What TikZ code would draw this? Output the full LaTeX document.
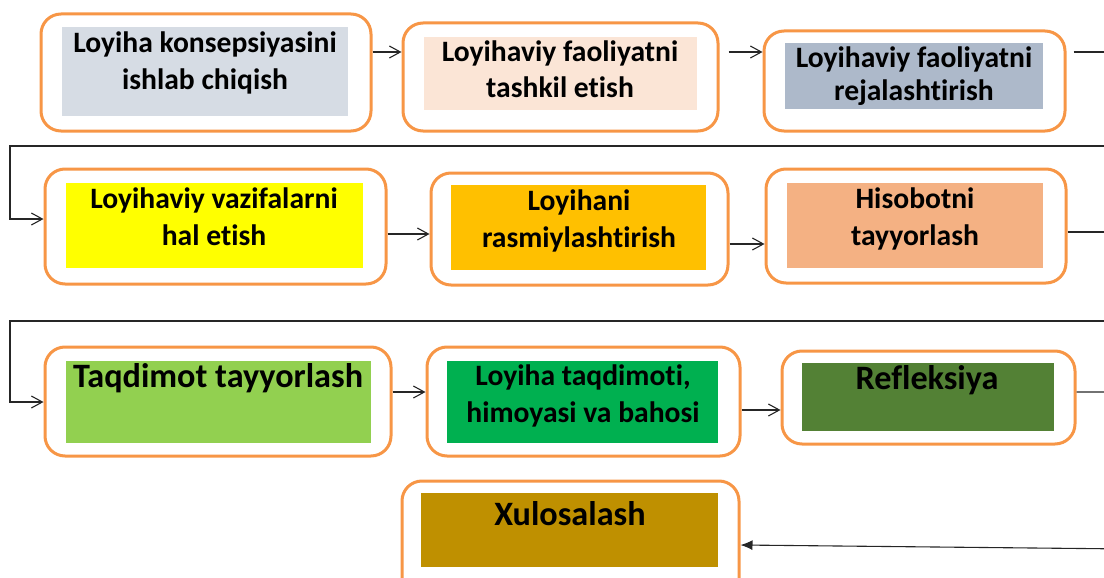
\documentclass[tikz,border=0pt]{standalone}
\usepackage{fontspec}
\setmainfont[Ligatures={NoCommon,NoRequired,NoContextual}]{Carlito}
\usetikzlibrary{arrows.meta,fit}
\definecolor{borange}{HTML}{F79646}
\definecolor{cA}{HTML}{D6DCE4}
\definecolor{cB}{HTML}{FBE5D6}
\definecolor{cC}{HTML}{ADB9CA}
\definecolor{cD}{HTML}{FFFF00}
\definecolor{cE}{HTML}{FFC000}
\definecolor{cF}{HTML}{F4B183}
\definecolor{cG}{HTML}{92D050}
\definecolor{cH}{HTML}{00B050}
\definecolor{cI}{HTML}{538135}
\definecolor{cJ}{HTML}{BF9000}
\begin{document}
\begin{tikzpicture}[x=1pt,y=-1pt,
  obox/.style={draw=borange, line width=3pt, rounded corners=20pt, fill=white, inner sep=0pt},
  ibox/.style={fill=#1, draw=none, inner sep=0pt},
  lbl/.style={anchor=base, inner sep=0pt, text=black, font=\fontsize{29.6}{35}\selectfont\bfseries},
  big/.style={anchor=base, inner sep=0pt, text=black, font=\fontsize{34.2}{41}\selectfont\bfseries},
  arr/.style={draw=black!85, line width=1.1pt, -{Straight Barb[length=11pt,width=12pt]}},
  farr/.style={draw=black!85, line width=1.1pt, -{Latex[length=12pt,width=10pt]}}]
\useasboundingbox (0,0) rectangle (1104,578);
\clip (0,0) rectangle (1104,578);
% outer boxes
\node[obox, fit={(41,14) (371,131)}] (b1) {};
\node[obox, fit={(403,23) (718,131)}] (b2) {};
\node[obox, fit={(764,31) (1065,131)}] (b3) {};
\node[obox, fit={(45,169) (386,284)}] (b4) {};
\node[obox, fit={(431,173) (728,285)}] (b5) {};
\node[obox, fit={(766,169) (1066,283)}] (b6) {};
\node[obox, fit={(45,347) (391,456)}] (b7) {};
\node[obox, fit={(427,347) (740,456)}] (b8) {};
\node[obox, fit={(782,351) (1075,444)}] (b9) {};
\node[obox, fit={(402,481) (739,600)}] (b10) {};
% inner fills
\node[ibox=cA, fit={(62,27) (348,116)}] (i1) {};
\node[ibox=cB, fit={(424,37) (697,110)}] (i2) {};
\node[ibox=cC, fit={(785,43) (1043,109)}] (i3) {};
\node[ibox=cD, fit={(66,183) (363,268)}] (i4) {};
\node[ibox=cE, fit={(451,185) (706,270)}] (i5) {};
\node[ibox=cF, fit={(787,183) (1043,268)}] (i6) {};
\node[ibox=cG, fit={(66,361) (371,443)}] (i7) {};
\node[ibox=cH, fit={(447,361) (718,443)}] (i8) {};
\node[ibox=cI, fit={(802,363) (1054,431)}] (i9) {};
\node[ibox=cJ, fit={(421,493) (718,567)}] (i10) {};
% texts
\node[lbl] (t1a) at (205,53) {Loyiha konsepsiyasini};
\node[lbl] (t1b) at (205,89) {ishlab chiqish};
\node[lbl] (t2a) at (560,62) {Loyihaviy faoliyatni};
\node[lbl] (t2b) at (560,98) {tashkil etish};
\node[lbl] (t3a) at (914,68) {Loyihaviy faoliyatni};
\node[lbl] (t3b) at (914,101) {rejalashtirish};
\node[lbl] (t4a) at (214,208) {Loyihaviy vazifalarni};
\node[lbl] (t4b) at (214,245) {hal etish};
\node[lbl] (t5a) at (579,210) {Loyihani};
\node[lbl] (t5b) at (579,247) {rasmiylashtirish};
\node[lbl] (t6a) at (915,208) {Hisobotni};
\node[lbl] (t6b) at (915,245) {tayyorlash};
\node[big] (t7) at (218,387) {Taqdimot tayyorlash};
\node[lbl] (t8a) at (583,385) {Loyiha taqdimoti,};
\node[lbl] (t8b) at (583,422) {himoyasi va bahosi};
\node[big] (t9) at (927,389) {Refleksiya};
\node[big] (t10) at (570,525) {Xulosalash};
% connectors
\draw[arr] (b1.east |- 0,52) -- (b2.west |- 0,52);
\draw[arr, shorten <=9pt] (b2.east |- 0,52) -- (b3.west |- 0,52);
\draw[arr, shorten <=7pt] (b3.east |- 0,52) -- (1130,52) -- (1130,146) -- (10,146) -- (10,219) -- (b4.west |- 0,219);
\draw[arr] (b4.east |- 0,234) -- (b5.west |- 0,234);
\draw[arr] (b5.east |- 0,244) -- (b6.west |- 0,244);
\draw[arr] (b6.east |- 0,232) -- (1130,232) -- (1130,321) -- (10,321) -- (10,402) -- (b7.west |- 0,402);
\draw[arr] (b7.east |- 0,392) -- (b8.west |- 0,392);
\draw[arr] (b8.east |- 0,410) -- (b9.west |- 0,410);
\draw[farr] (b9.east |- 0,392) -- (1130,392) -- (1130,549) -- (b10.east |- 0,545);
\end{tikzpicture}
\end{document}
